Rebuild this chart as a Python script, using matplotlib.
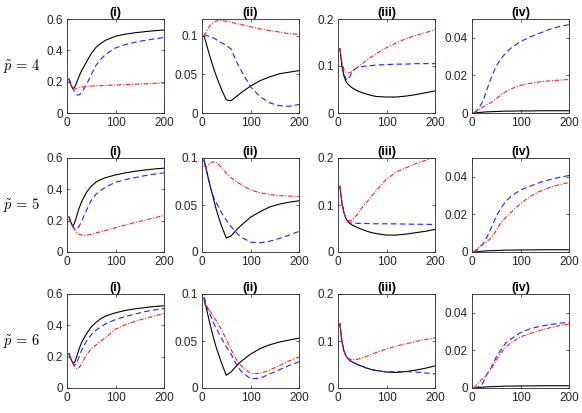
import numpy as np
import matplotlib
matplotlib.use('Agg')
import matplotlib.pyplot as plt

plt.rcParams['font.family'] = ['Liberation Sans', 'DejaVu Sans']
plt.rcParams['mathtext.fontset'] = 'cm'

#------------------------------------------#
# Data
t = [4, 8, 12, 16, 20, 25, 30, 40, 50, 60, 70, 80, 100, 120, 140, 160, 180, 200]

titles = ['(i)', '(ii)', '(iii)', '(iv)']
row_labels = [r'$\tilde{p}\,=\,4$', r'$\tilde{p}\,=\,5$', r'$\tilde{p}\,=\,6$']

# p = 4
black_p4 = [
    [0.215, 0.18, 0.155, 0.165, 0.195, 0.235, 0.27, 0.325, 0.38, 0.42, 0.445, 0.465, 0.49, 0.503, 0.512, 0.519, 0.525, 0.53],
    [0.1, 0.092, 0.083, 0.074, 0.066, 0.056, 0.047, 0.031, 0.017, 0.016, 0.021, 0.026, 0.035, 0.042, 0.047, 0.051, 0.053, 0.055],
    [0.137, 0.1, 0.08, 0.068, 0.062, 0.057, 0.053, 0.047, 0.043, 0.04, 0.037, 0.035, 0.034, 0.034, 0.036, 0.039, 0.043, 0.047],
    [0, 0.0001, 0.0002, 0.0003, 0.0004, 0.0005, 0.0006, 0.0007, 0.0008, 0.0009, 0.001, 0.001, 0.0011, 0.0011, 0.0012, 0.0012, 0.0012, 0.0012],
]
blue_p4 = [
    [0.22, 0.19, 0.158, 0.13, 0.116, 0.115, 0.13, 0.18, 0.245, 0.305, 0.345, 0.375, 0.415, 0.437, 0.452, 0.463, 0.473, 0.482],
    [0.102, 0.101, 0.1, 0.099, 0.098, 0.097, 0.095, 0.091, 0.088, 0.083, 0.068, 0.056, 0.034, 0.021, 0.013, 0.0095, 0.0087, 0.011],
    [0.137, 0.105, 0.085, 0.073, 0.07, 0.078, 0.09, 0.097, 0.099, 0.1, 0.101, 0.102, 0.103, 0.104, 0.104, 0.105, 0.105, 0.105],
    [0, 0.001, 0.002, 0.0035, 0.005, 0.008, 0.012, 0.019, 0.025, 0.029, 0.032, 0.0345, 0.038, 0.0405, 0.0425, 0.0445, 0.046, 0.047],
]
red_p4 = [
    [0.205, 0.175, 0.155, 0.152, 0.156, 0.161, 0.165, 0.17, 0.172, 0.174, 0.175, 0.176, 0.178, 0.181, 0.184, 0.186, 0.189, 0.192],
    [0.1, 0.104, 0.109, 0.113, 0.116, 0.118, 0.1195, 0.12, 0.119, 0.118, 0.116, 0.115, 0.112, 0.109, 0.107, 0.105, 0.103, 0.102],
    [0.137, 0.11, 0.093, 0.087, 0.085, 0.086, 0.089, 0.097, 0.105, 0.113, 0.12, 0.127, 0.139, 0.149, 0.158, 0.165, 0.171, 0.177],
    [0, 0.0007, 0.0013, 0.002, 0.0027, 0.0035, 0.0043, 0.0057, 0.0077, 0.0097, 0.0114, 0.0128, 0.0147, 0.0158, 0.0166, 0.0171, 0.0175, 0.0178],
]

# p = 5
black_p5 = [
    [0.225, 0.19, 0.163, 0.19, 0.23, 0.28, 0.32, 0.38, 0.42, 0.447, 0.463, 0.475, 0.492, 0.505, 0.515, 0.523, 0.53, 0.535],
    [0.098, 0.09, 0.081, 0.072, 0.064, 0.054, 0.044, 0.028, 0.015, 0.017, 0.023, 0.028, 0.037, 0.043, 0.048, 0.051, 0.053, 0.0545],
    [0.14, 0.105, 0.085, 0.072, 0.065, 0.06, 0.057, 0.052, 0.048, 0.044, 0.041, 0.039, 0.036, 0.036, 0.038, 0.041, 0.044, 0.048],
    [0, 0.0001, 0.0002, 0.0003, 0.0004, 0.0005, 0.0006, 0.0007, 0.0008, 0.0009, 0.001, 0.001, 0.0011, 0.0011, 0.0012, 0.0012, 0.0012, 0.0012],
]
blue_p5 = [
    [0.225, 0.19, 0.165, 0.145, 0.142, 0.165, 0.195, 0.265, 0.33, 0.37, 0.395, 0.415, 0.445, 0.462, 0.475, 0.487, 0.497, 0.505],
    [0.098, 0.089, 0.08, 0.071, 0.064, 0.057, 0.052, 0.042, 0.034, 0.027, 0.021, 0.016, 0.0105, 0.0098, 0.0115, 0.0145, 0.018, 0.022],
    [0.14, 0.105, 0.085, 0.072, 0.065, 0.062, 0.0615, 0.061, 0.0608, 0.0605, 0.0603, 0.06, 0.06, 0.0598, 0.0595, 0.059, 0.059, 0.0585],
    [0, 0.0008, 0.0015, 0.0025, 0.0035, 0.0052, 0.0075, 0.013, 0.019, 0.0235, 0.027, 0.0295, 0.033, 0.035, 0.037, 0.0385, 0.0397, 0.0407],
]
red_p5 = [
    [0.21, 0.18, 0.16, 0.14, 0.125, 0.113, 0.108, 0.107, 0.113, 0.122, 0.13, 0.138, 0.155, 0.172, 0.188, 0.203, 0.218, 0.233],
    [0.092, 0.09, 0.092, 0.094, 0.0955, 0.096, 0.095, 0.09, 0.084, 0.079, 0.075, 0.072, 0.066, 0.063, 0.061, 0.06, 0.0595, 0.059],
    [0.14, 0.105, 0.085, 0.073, 0.067, 0.066, 0.069, 0.08, 0.095, 0.107, 0.12, 0.132, 0.155, 0.17, 0.179, 0.188, 0.195, 0.202],
    [0, 0.001, 0.002, 0.003, 0.0037, 0.0045, 0.0055, 0.0075, 0.0115, 0.0158, 0.0185, 0.021, 0.0258, 0.0295, 0.0323, 0.0343, 0.0358, 0.037],
]

# p = 6
black_p6 = [
    [0.22, 0.185, 0.16, 0.165, 0.2, 0.25, 0.29, 0.345, 0.39, 0.42, 0.443, 0.46, 0.48, 0.495, 0.505, 0.513, 0.52, 0.525],
    [0.095, 0.087, 0.078, 0.069, 0.061, 0.051, 0.042, 0.027, 0.0135, 0.017, 0.023, 0.028, 0.036, 0.042, 0.046, 0.049, 0.051, 0.053],
    [0.137, 0.1, 0.08, 0.069, 0.063, 0.058, 0.055, 0.05, 0.046, 0.042, 0.039, 0.037, 0.034, 0.033, 0.035, 0.038, 0.042, 0.047],
    [0, 0.0001, 0.0002, 0.0003, 0.0004, 0.0005, 0.0006, 0.0007, 0.0008, 0.0009, 0.001, 0.001, 0.0011, 0.0011, 0.0012, 0.0012, 0.0012, 0.0012],
]
blue_p6 = [
    [0.22, 0.19, 0.16, 0.146, 0.16, 0.2, 0.24, 0.3, 0.34, 0.37, 0.39, 0.41, 0.437, 0.456, 0.472, 0.487, 0.498, 0.508],
    [0.097, 0.09, 0.084, 0.079, 0.074, 0.068, 0.063, 0.053, 0.044, 0.036, 0.026, 0.018, 0.0098, 0.0105, 0.015, 0.0195, 0.024, 0.028],
    [0.137, 0.1, 0.08, 0.069, 0.063, 0.058, 0.055, 0.05, 0.046, 0.042, 0.039, 0.037, 0.034, 0.035, 0.035, 0.034, 0.032, 0.030],
    [0, 0.0002, 0.0005, 0.0009, 0.0015, 0.004, 0.007, 0.011, 0.0165, 0.0205, 0.024, 0.026, 0.0295, 0.0315, 0.0328, 0.0337, 0.0344, 0.035],
]
red_p6 = [
    [0.21, 0.18, 0.155, 0.135, 0.122, 0.13, 0.155, 0.21, 0.25, 0.275, 0.3, 0.323, 0.375, 0.403, 0.425, 0.443, 0.46, 0.476],
    [0.09, 0.088, 0.085, 0.082, 0.079, 0.075, 0.071, 0.062, 0.052, 0.041, 0.031, 0.024, 0.0155, 0.0155, 0.019, 0.024, 0.029, 0.033],
    [0.137, 0.1, 0.08, 0.07, 0.064, 0.061, 0.06, 0.061, 0.064, 0.068, 0.072, 0.076, 0.083, 0.089, 0.094, 0.099, 0.103, 0.107],
    [0, 0.0012, 0.0025, 0.0035, 0.0045, 0.0055, 0.007, 0.0105, 0.0148, 0.0188, 0.0218, 0.024, 0.0272, 0.029, 0.0307, 0.032, 0.0332, 0.034],
]

blacks = [black_p4, black_p5, black_p6]
blues = [blue_p4, blue_p5, blue_p6]
reds = [red_p4, red_p5, red_p6]

ylims = [[0.6, 0.122, 0.2, 0.05], [0.6, 0.1, 0.2, 0.05], [0.6, 0.1, 0.2, 0.05]]
yticks = [[0, 0.2, 0.4, 0.6], [0, 0.05, 0.1], [0, 0.1, 0.2], [0, 0.02, 0.04]]
yticklabels = [['0', '0.2', '0.4', '0.6'], ['0', '0.05', '0.1'], ['0', '0.1', '0.2'], ['0', '0.02', '0.04']]

#------------------------------------------#
# Plot
fig = plt.figure(figsize=(5.82, 4.13), dpi=100)
lefts = [67, 202, 338, 472]
tops = [19, 158, 294]
w, h = 97, 94
grey = '#262626'

for r in range(3):
    for c in range(4):
        ax = fig.add_axes([lefts[c] / 582, 1 - (tops[r] + h) / 413, w / 582, h / 413])
        ax.plot(t, blacks[r][c], '-', color='k', lw=0.8)
        ax.plot(t, blues[r][c], '--', color='#2020ff', lw=0.8, dashes=(5, 3))
        ax.plot(t, reds[r][c], '-.', color='#ff2020', lw=0.8, dashes=(4, 1.5, 1, 1.5))
        ax.set_xlim(0, 200)
        ax.set_ylim(0, ylims[r][c])
        ax.set_xticks([0, 100, 200])
        ax.set_yticks(yticks[c])
        ax.set_yticklabels(yticklabels[c])
        ax.tick_params(direction='in', length=2, width=0.5, labelsize=8.5,
                       colors=grey, top=True, right=True, pad=3)
        for s in ax.spines.values():
            s.set_linewidth(0.6)
            s.set_color(grey)
        ax.set_title(titles[c], fontsize=9, fontweight='bold', pad=2, color='k')
    fig.text(3 / 582, 1 - (tops[r] + h / 2) / 413, row_labels[r], fontsize=10.5,
             ha='left', va='center')

plt.savefig('out.png', dpi=100)
